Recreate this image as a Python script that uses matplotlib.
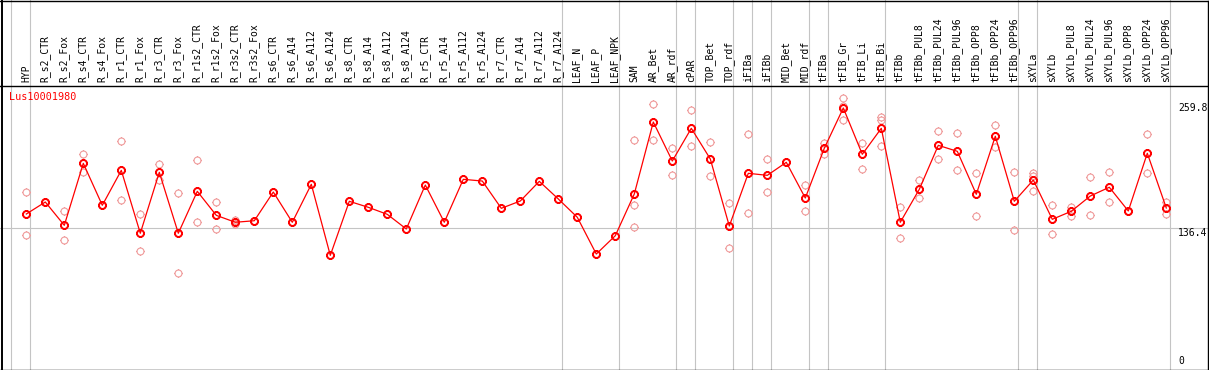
import numpy as np
import matplotlib
matplotlib.use("Agg")
import matplotlib.pyplot as plt
from matplotlib.path import Path
from matplotlib.lines import Line2D

# ---------------- data ----------------
gene = "Lus10001980"

categories = [
    "HYP", "R_s2_CTR", "R_s2_Fox", "R_s4_CTR", "R_s4_Fox", "R_r1_CTR", "R_r1_Fox",
    "R_r3_CTR", "R_r3_Fox", "R_r1s2_CTR", "R_r1s2_Fox", "R_r3s2_CTR", "R_r3s2_Fox",
    "R_s6_CTR", "R_s6_A14", "R_s6_A112", "R_s6_A124", "R_s8_CTR", "R_s8_A14",
    "R_s8_A112", "R_s8_A124", "R_r5_CTR", "R_r5_A14", "R_r5_A112", "R_r5_A124",
    "R_r7_CTR", "R_r7_A14", "R_r7_A112", "R_r7_A124", "LEAF_N", "LEAF_P", "LEAF_NPK",
    "SAM", "AR_Bet", "AR_rdf", "cPAR", "TOP_Bet", "TOP_rdf", "iFIBa", "iFIBb",
    "MID_Bet", "MID_rdf", "tFIBa", "tFIB_Gr", "tFIB_Li", "tFIB_Bi", "tFIBb",
    "tFIBb_PUL8", "tFIBb_PUL24", "tFIBb_PUL96", "tFIBb_OPP8", "tFIBb_OPP24",
    "tFIBb_OPP96", "sXYLa", "sXYLb", "sXYLb_PUL8", "sXYLb_PUL24", "sXYLb_PUL96",
    "sXYLb_OPP8", "sXYLb_OPP24", "sXYLb_OPP96",
]

# number of categories in each sample group (separated by grey lines)
group_sizes = [1, 28, 3, 3, 1, 2, 1, 1, 2, 1, 3, 7, 1, 7]

means = [
    150.4, 162.2, 139.3, 200.2, 159.0, 193.3, 131.5, 191.4, 131.5, 172.7,
    149.1, 142.3, 143.8, 172.0, 142.3, 179.6, 109.8, 162.9, 157.0, 150.1,
    135.7, 178.9, 142.3, 184.5, 182.8, 156.0, 163.2, 182.5, 165.2, 147.2,
    111.1, 129.1, 170.1, 240.8, 202.5, 234.6, 204.5, 138.6, 190.4, 188.4,
    201.2, 166.1, 215.0, 254.6, 209.1, 234.6, 142.3, 174.7, 217.9, 212.0,
    169.8, 226.8, 162.9, 183.8, 145.2, 153.1, 168.1, 176.7, 153.4, 210.1,
    156.3,
]

replicates = [
    [172.0, 129.5], [162.2, 162.2], [153.4, 124.9], [209.4, 192.0], [159.0, 159.0],
    [221.8, 163.9], [150.1, 113.8], [199.3, 183.8], [170.8, 92.5], [203.2, 142.3],
    [162.2, 135.4], [144.5, 140.6], [143.8, 143.8], [172.0, 172.0], [142.3, 142.3],
    [], [], [], [], [], [], [], [], [], [], [], [], [], [], [], [], [],
    [223.1, 159.0, 137.6], [258.2, 223.1], [215.0, 188.4], [252.3, 216.9],
    [220.9, 187.5], [160.9, 116.7], [229.0, 151.1], [204.5, 171.7], [201.2, 201.2],
    [178.6, 153.4], [220.5, 209.1], [264.1, 257.0, 242.8], [219.9, 194.6],
    [246.0, 242.8, 216.9], [157.3, 126.5], [183.5, 165.8], [231.7, 204.2],
    [229.7, 193.4], [190.4, 148.5], [237.6, 216.0], [191.4, 134.4],
    [190.4, 187.8, 173.3], [159.0, 130.8], [157.6, 148.8], [186.5, 149.1],
    [191.4, 161.9], [153.4, 153.4], [228.7, 190.4], [162.2, 150.4],
]

y_ticks = [259.8, 136.4, 0]
y_ref_line = 136.4

# ---------------- layout ----------------
W, H = 1209, 370
LABEL_H = 85          # px height of label band
X0_PX, DX_PX = 26.3, 19.0
PX_PER_UNIT = 1.0178
ZERO_PX = 367.1       # px (from top) of value 0

mono = "DejaVu Sans Mono"
RED = "#ff0000"
PINK = "#ef9a9a"
GRID = "#c4c4c4"

fig = plt.figure(figsize=(W / 100, H / 100), dpi=100)
fig.patch.set_facecolor("white")

xlim = (-X0_PX / DX_PX, (W - X0_PX) / DX_PX)
ax = fig.add_axes([0, 0, 1, (H - LABEL_H) / H])
ax.set_xlim(*xlim)
ax.set_ylim((ZERO_PX - H) / PX_PER_UNIT, (ZERO_PX - LABEL_H) / PX_PER_UNIT)
ax.axis("off")

lab = fig.add_axes([0, (H - LABEL_H) / H, 1, LABEL_H / H])
lab.set_xlim(*xlim)
lab.set_ylim(0, 1)
lab.axis("off")

# group separators
ends = np.concatenate([[-1], np.cumsum(group_sizes) - 1])
off = 4.0 / DX_PX
for e in ends:
    for a in (ax, lab):
        a.axvline(e + off, color=GRID, lw=0.8, zorder=0)
ax.axhline(y_ref_line, color=GRID, lw=0.8, zorder=0)

# custom marker: circle with four little ticks
circ = Path.unit_circle()
tick_v, tick_c = [], []
for dx, dy in [(1, 0), (-1, 0), (0, 1), (0, -1)]:
    tick_v += [(dx * 1.0, dy * 1.0), (dx * 1.28, dy * 1.28)]
    tick_c += [Path.MOVETO, Path.LINETO]
marker = Path.make_compound_path(circ, Path(tick_v, tick_c))

x = np.arange(len(categories))
rx = [i for i, r in enumerate(replicates) for _ in r]
ry = [v for r in replicates for v in r]
ax.plot(rx, ry, linestyle="none", marker=marker, markersize=6.4,
        markerfacecolor="none", markeredgecolor=PINK, markeredgewidth=0.8, zorder=2)
ax.plot(x, means, color=RED, lw=0.9, marker=marker, markersize=6.4,
        markerfacecolor="none", markeredgecolor=RED, markeredgewidth=1.4, zorder=3)

# category labels
for i, c in enumerate(categories):
    lab.text(i - 0.02, 2.5 / LABEL_H, c, rotation=90, ha="center", va="bottom",
             family=mono, fontsize=7, color="black")

# gene name
ax.text(9 / W, 1 - 12 / (H - LABEL_H), gene, transform=ax.transAxes, ha="left",
        va="center", family=mono, fontsize=7.3, color=RED)

# right value labels
for v in y_ticks:
    va = "bottom" if v == 0 else "top"
    yy = v + (1.0 if v == 0 else 0)
    ax.text(1178 / W, yy, f"{v:g}", transform=ax.get_yaxis_transform(),
            ha="left", va=va, family=mono, fontsize=7, color="black", clip_on=False)

# frame
def fline(x1, y1, x2, y2, lw=1.0):
    fig.add_artist(Line2D([x1 / W, x2 / W], [1 - y1 / H, 1 - y2 / H],
                          transform=fig.transFigure, color="black", lw=lw))

fline(0, 0.5, W, 0.5)
fline(0, H - 0.5, W, H - 0.5)
fline(1.5, 0.5, 1.5, H - 0.5, lw=1.4)
fline(W - 1.5, 0.5, W - 1.5, H - 0.5)
fline(0, LABEL_H + 0.5, W, LABEL_H + 0.5)

fig.savefig("out.png", dpi=100, facecolor="white")
